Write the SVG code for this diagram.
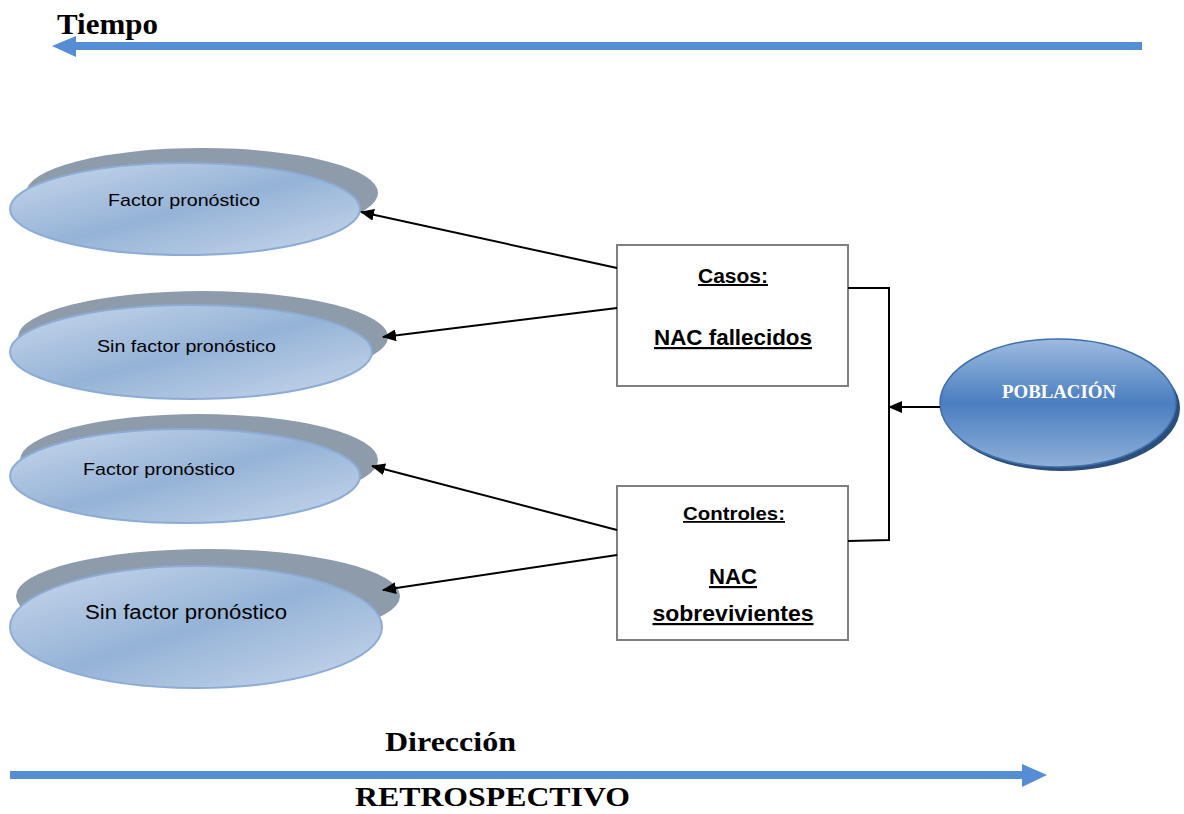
<svg xmlns="http://www.w3.org/2000/svg" width="1184" height="814" viewBox="0 0 1184 814">
<defs>
<linearGradient id="gl" x1="0" y1="0" x2="1" y2="1">
<stop offset="0" stop-color="#c9d8ec"/>
<stop offset="0.5" stop-color="#95b3d7"/>
<stop offset="1" stop-color="#c9d8ec"/>
</linearGradient>
<linearGradient id="gp" x1="0" y1="0" x2="0" y2="1">
<stop offset="0" stop-color="#9dbbe0"/>
<stop offset="0.5" stop-color="#4a7ebf"/>
<stop offset="1" stop-color="#8fb0d9"/>
</linearGradient>
<marker id="ah" markerWidth="14" markerHeight="12" refX="13" refY="6" orient="auto" markerUnits="userSpaceOnUse" viewBox="0 0 14 12">
<path d="M0,0 L14,6 L0,12 Z" fill="#000"/>
</marker>
<style>
.sh{fill:#8e9bab}
.el{fill:url(#gl);stroke:#8cacd6;stroke-width:2}
.et{font-family:"Liberation Sans",Arial,sans-serif;fill:#000}
.bx{fill:#fff;stroke:#808080;stroke-width:2}
.bt{font-family:"Liberation Sans",Arial,sans-serif;font-weight:bold;text-decoration:underline;fill:#000;text-anchor:middle}
.cn{stroke:#000;stroke-width:2;fill:none}
.ser{font-family:"Liberation Serif","Times New Roman",serif;font-weight:bold;fill:#000}
.blue{fill:#558ed5}
</style>
</defs>
<rect width="1184" height="814" fill="#fff"/>
<g id="tiempo">
<rect class="blue" x="74" y="42" width="1068" height="8"/>
<polygon class="blue" points="52,46 76,36 76,57"/>
<text class="ser" x="57" y="34" font-size="29" textLength="101" lengthAdjust="spacingAndGlyphs">Tiempo</text>
</g>
<g id="direccion">
<rect class="blue" x="10" y="771" width="1014" height="8"/>
<polygon class="blue" points="1047,775 1022,764 1022,787"/>
<text class="ser" x="385" y="751" font-size="28" textLength="131" lengthAdjust="spacingAndGlyphs">Dirección</text>
<text class="ser" x="355" y="806" font-size="28" textLength="275" lengthAdjust="spacingAndGlyphs">RETROSPECTIVO</text>
</g>
<g id="ell1">
<ellipse class="sh" cx="202" cy="193" rx="176" ry="45"/>
<ellipse class="el" cx="185" cy="209" rx="175" ry="46"/>
<text class="et" x="108" y="206" font-size="17" textLength="152" lengthAdjust="spacingAndGlyphs">Factor pronóstico</text>
</g>
<g id="ell2">
<ellipse class="sh" cx="203" cy="337" rx="185" ry="46"/>
<ellipse class="el" cx="191" cy="352" rx="181" ry="47"/>
<text class="et" x="97" y="352" font-size="17" textLength="179" lengthAdjust="spacingAndGlyphs">Sin factor pronóstico</text>
</g>
<g id="ell3">
<ellipse class="sh" cx="199" cy="460" rx="179" ry="46"/>
<ellipse class="el" cx="185" cy="476" rx="175" ry="47"/>
<text class="et" x="83" y="475" font-size="17" textLength="152" lengthAdjust="spacingAndGlyphs">Factor pronóstico</text>
</g>
<g id="ell4">
<ellipse class="sh" cx="208" cy="596" rx="192" ry="47"/>
<ellipse class="el" cx="196" cy="627" rx="186" ry="61"/>
<text class="et" x="85" y="619" font-size="20" textLength="202" lengthAdjust="spacingAndGlyphs">Sin factor pronóstico</text>
</g>
<g id="casos">
<rect class="bx" x="617" y="245" width="231" height="141"/>
<text class="bt" x="733" y="283" font-size="20" textLength="70" lengthAdjust="spacingAndGlyphs">Casos:</text>
<text class="bt" x="733" y="345" font-size="22" textLength="158" lengthAdjust="spacingAndGlyphs">NAC fallecidos</text>
</g>
<g id="controles">
<rect class="bx" x="617" y="486" width="231" height="154"/>
<text class="bt" x="734" y="520" font-size="18" textLength="102" lengthAdjust="spacingAndGlyphs">Controles:</text>
<text class="bt" x="733" y="584" font-size="22" textLength="48" lengthAdjust="spacingAndGlyphs">NAC</text>
<text class="bt" x="733" y="621" font-size="22" textLength="161" lengthAdjust="spacingAndGlyphs">sobrevivientes</text>
</g>
<g id="poblacion">
<ellipse cx="1062" cy="408" rx="118" ry="63" fill="#2b4e7a"/>
<ellipse cx="1058" cy="403" rx="118" ry="64" fill="url(#gp)" stroke="#3f6fab" stroke-width="1.5"/>
<text x="1059" y="398" font-family="'Liberation Serif','Times New Roman',serif" font-weight="bold" font-size="18" fill="#fff" text-anchor="middle" textLength="114" lengthAdjust="spacingAndGlyphs">POBLACIÓN</text>
</g>
<g id="connectors">
<line class="cn" x1="617" y1="268" x2="361" y2="212" marker-end="url(#ah)"/>
<line class="cn" x1="617" y1="308" x2="383" y2="337" marker-end="url(#ah)"/>
<line class="cn" x1="617" y1="530" x2="372" y2="466" marker-end="url(#ah)"/>
<line class="cn" x1="617" y1="555" x2="383" y2="590" marker-end="url(#ah)"/>
<polyline class="cn" points="848,288 889,288 889,540 848,541"/>
<line class="cn" x1="940" y1="407" x2="889" y2="407" marker-end="url(#ah)"/>
</g>
</svg>
